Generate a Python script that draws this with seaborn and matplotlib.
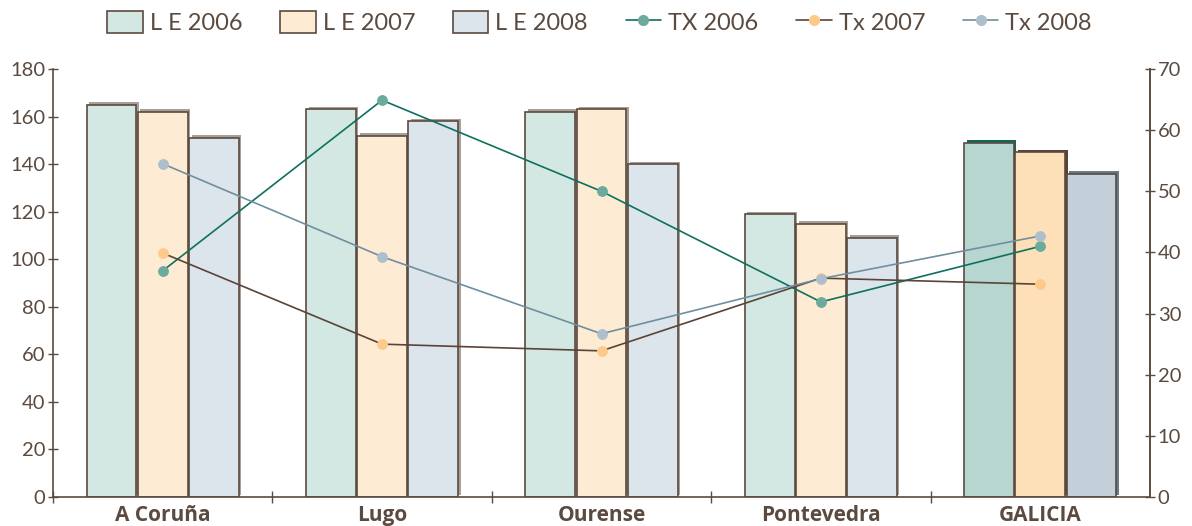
import numpy as np
import pandas as pd
import matplotlib
matplotlib.use("Agg")
import matplotlib.pyplot as plt
import matplotlib.patheffects as pe
from matplotlib.patches import Patch
from matplotlib.lines import Line2D
import seaborn as sns

regions = ["A Coruña", "Lugo", "Ourense", "Pontevedra", "GALICIA"]
years = ["L E 2006", "L E 2007", "L E 2008"]
le_2006 = [165, 163, 162, 119, 149]
le_2007 = [162, 152, 163, 115, 145]
le_2008 = [151, 158, 140, 109, 136]
tx_labels = ["TX 2006", "Tx 2007", "Tx 2008"]
tx_2006 = [37.0, 64.9, 50.0, 31.9, 41.0]
tx_2007 = [39.9, 25.0, 23.9, 35.8, 34.8]
tx_2008 = [54.5, 39.3, 26.7, 35.7, 42.7]

BROWN = "#5b4a3f"
bar_colors = ["#d3e8e2", "#feebd3", "#dde5ec"]
bar_colors_total = ["#b6d6cf", "#fee0b8", "#c3d0d9"]
shadow_total = ["#0f6a5a", "#5b4236", "#687c88"]
line_colors = ["#0f7060", "#5a4438", "#6f8fa0"]
marker_colors = ["#6aab9d", "#fdca8c", "#adbfcd"]

sns.set_theme(style="white")
plt.rcParams["font.family"] = ["Lato", "DejaVu Sans"]

df = pd.DataFrame({
    "region": regions * 3,
    "year": [years[0]] * 5 + [years[1]] * 5 + [years[2]] * 5,
    "value": le_2006 + le_2007 + le_2008,
})

fig = plt.figure(figsize=(11.92, 5.26), dpi=100)
ax = fig.add_axes([53 / 1192, 29 / 526, (1150 - 53) / 1192, (497 - 69) / 526])

sns.barplot(data=df, x="region", y="value", hue="year", order=regions,
            hue_order=years, palette=bar_colors, width=0.7, gap=0.03,
            edgecolor=BROWN, linewidth=1.2, ax=ax, legend=False, saturation=1)

for i, cont in enumerate(ax.containers):
    for j, p in enumerate(cont):
        if j == len(regions) - 1:
            p.set_facecolor(bar_colors_total[i])
            sh = shadow_total[i]
            p.set_path_effects([pe.SimplePatchShadow(offset=(1.8, 1.8), shadow_rgbFace=sh, alpha=1.0), pe.Normal()])
        else:
            p.set_path_effects([pe.SimplePatchShadow(offset=(1.8, 1.8), shadow_rgbFace="#8d7f77", alpha=0.75), pe.Normal()])

ax.set_xlim(-0.5, len(regions) - 0.5)
ax.set_ylim(0, 180)
ax.set_yticks(np.arange(0, 181, 20))
ax.set_xlabel("")
ax.set_ylabel("")
ax.spines["top"].set_visible(False)
for s in ["left", "right", "bottom"]:
    ax.spines[s].set_color(BROWN)
    ax.spines[s].set_linewidth(1.2)
ax.tick_params(axis="y", colors=BROWN, labelsize=14.5, direction="inout", length=7, width=1.0, left=True, pad=2)
ax.tick_params(axis="x", colors=BROWN, length=0, pad=6)
ax.set_xticks(np.arange(-0.5, len(regions) - 0.5, 1.0), minor=True)
ax.tick_params(axis="x", which="minor", direction="inout", length=8, width=1.0, color=BROWN, bottom=True)
for lbl in ax.get_xticklabels():
    lbl.set_fontweight("bold")
    lbl.set_fontsize(15)
    lbl.set_family(["Open Sans", "DejaVu Sans"])
    lbl.set_color(BROWN)

ax2 = ax.twinx()
x = np.arange(len(regions))
for vals, lc, mc in zip([tx_2006, tx_2007, tx_2008], line_colors, marker_colors):
    sns.lineplot(x=x, y=vals, ax=ax2, color=lc, linewidth=1.2, marker="o",
                 markersize=7, markerfacecolor=mc, markeredgecolor=mc, sort=False)
ax2.set_ylim(0, 70)
ax2.set_yticks(np.arange(0, 71, 10))
ax2.set_ylabel("")
for s in ["top", "left", "bottom"]:
    ax2.spines[s].set_visible(False)
ax2.spines["right"].set_color(BROWN)
ax2.spines["right"].set_linewidth(1.2)
ax2.tick_params(axis="y", colors=BROWN, labelsize=14.5, direction="inout", length=7, width=1.0, right=True, pad=2)
ax2.grid(False)
ax.grid(False)

handles = [Patch(facecolor=c, edgecolor=BROWN, linewidth=1.2) for c in bar_colors]
handles += [Line2D([0], [0], color=lc, lw=1.2, marker="o", markersize=7,
                   markerfacecolor=mc, markeredgecolor=mc) for lc, mc in zip(line_colors, marker_colors)]
leg = fig.legend(handles, years + tx_labels, loc="upper center", bbox_to_anchor=(0.503, 1.02),
                 ncol=6, frameon=False, fontsize=17, handlelength=1.5, handleheight=1.1,
                 handletextpad=0.3, columnspacing=1.6, labelcolor=BROWN)

fig.savefig("out.png", dpi=100)
